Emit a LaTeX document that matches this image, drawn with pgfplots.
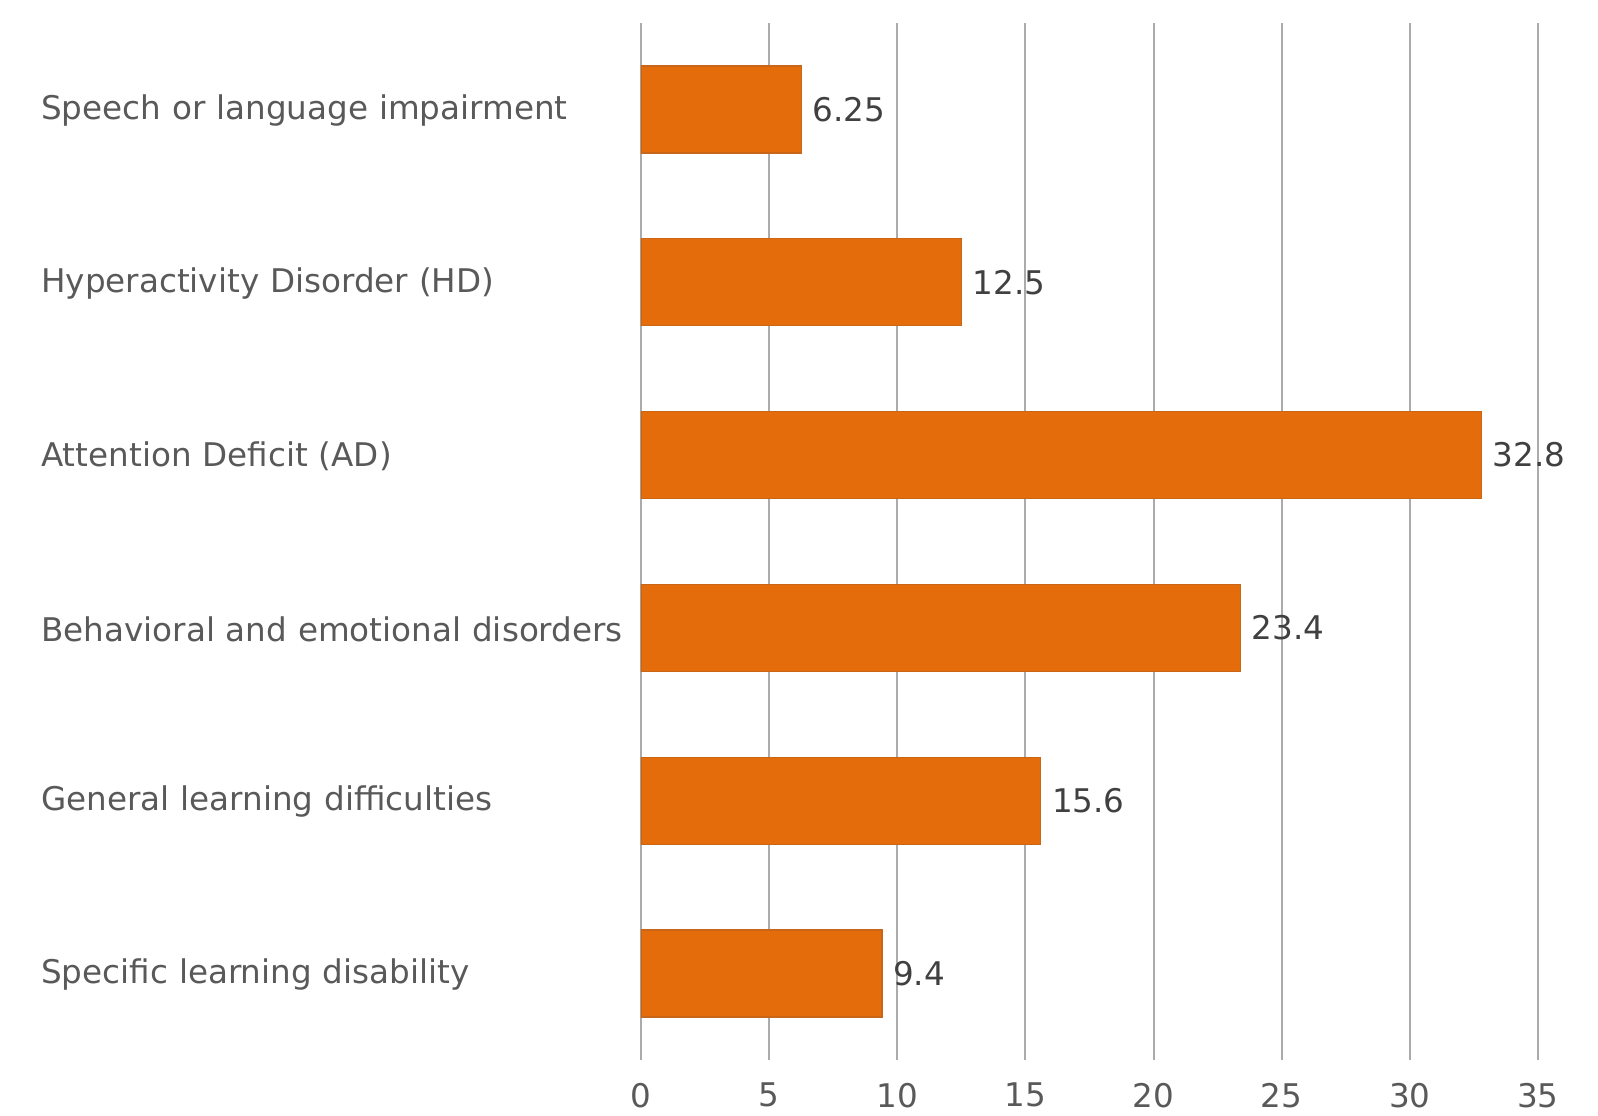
\documentclass[border=0pt]{standalone}
\usepackage{pgfplots}
\pgfplotsset{compat=1.18}
\usepackage{fontspec}
\setmainfont{DejaVu Sans}
\definecolor{barfill}{HTML}{E46C0A}
\definecolor{barline}{HTML}{C8661A}
\definecolor{labgray}{HTML}{595959}
\definecolor{valgray}{HTML}{404040}
\definecolor{gridgray}{HTML}{ABABAB}
\begin{document}
\begin{tikzpicture}
\begin{axis}[
  scale only axis,
  width=448.5pt, height=518.5pt,
  xbar, bar width=43.5pt,
  xmin=0, xmax=35,
  ymin=-0.5, ymax=5.5,
  xtick={0,5,...,35},
  ytick={0,1,2,3,4,5},
  yticklabels={Specific learning disability, General learning difficulties, Behavioral and emotional disorders, Attention Deficit (AD), Hyperactivity Disorder (HD), Speech or language impairment},
  xmajorgrids,
  grid style={draw=gridgray, line width=1pt},
  axis line style={draw=none},
  major tick style={draw=none},
  /pgf/number format/assume math mode=true,
  font=\fontsize{16.3pt}{19pt}\selectfont,
  xticklabel style={text=labgray, yshift=-8pt},
  yticklabel style={text=labgray, text width=296pt, align=left, inner xsep=0pt, xshift=0.6pt, yshift=-0.5pt},
  nodes near coords={\pgfmathprintnumber[fixed, precision=2]{\pgfplotspointmeta}},
  nodes near coords style={text=valgray, anchor=west, xshift=2pt},
  every node near coord/.append style={font=\fontsize{16.3pt}{19pt}\selectfont},
]
\addplot[fill=barfill, draw=barline, line width=0.6pt] coordinates {
  (9.4,0) (15.6,1) (23.4,2) (32.8,3) (12.5,4) (6.25,5)
};
\end{axis}
\path (current axis.south west) ++(-320.5pt,-27.5pt) coordinate (bbA);
\path (current axis.north east) ++(30pt,11.5pt) coordinate (bbB);
\path (bbA) rectangle (bbB);
\end{tikzpicture}
\end{document}
